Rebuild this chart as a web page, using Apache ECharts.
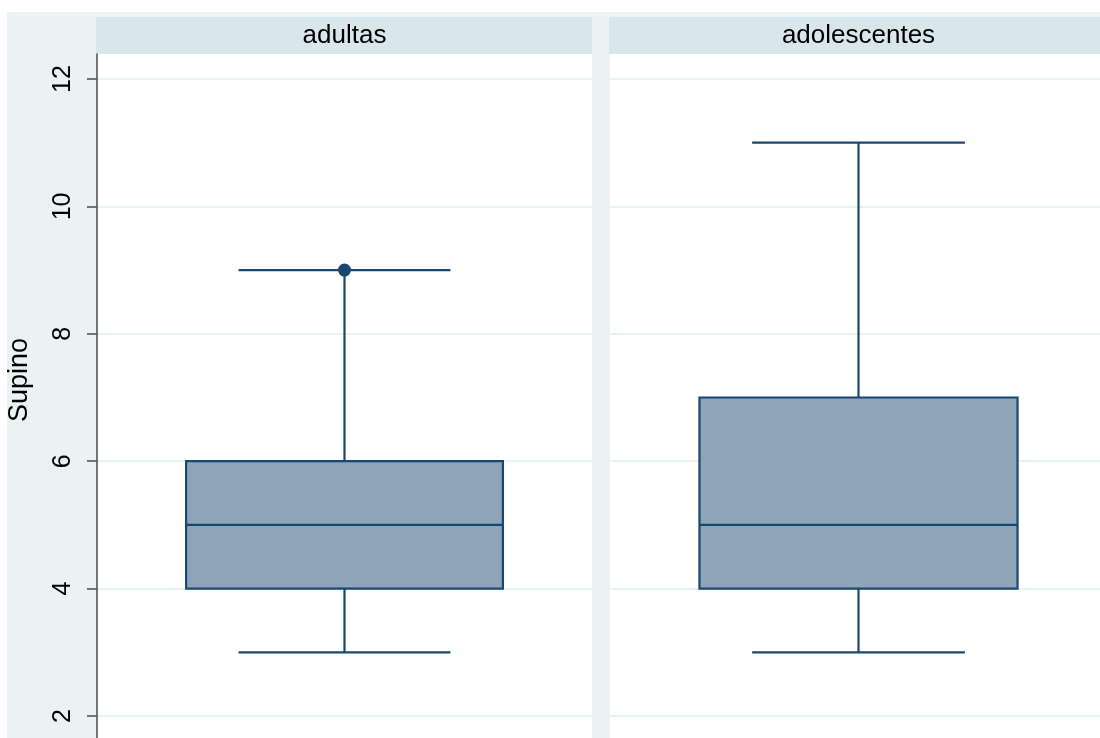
<!DOCTYPE html>
<html>
<head>
<meta charset="utf-8">
<script src="https://cdn.jsdelivr.net/npm/echarts@6/dist/echarts.min.js"></script>
<style>
  html, body { margin: 0; padding: 0; background: #ffffff; }
  #chart { width: 1100px; height: 738px; }
</style>
</head>
<body>
<div id="chart"></div>
<script>
// Supino by group: box summaries per panel
const panels = ['adultas', 'adolescentes'];
const whiskerLow = [3, 3];
const q1 = [4, 4];
const median = [5, 5];
const q3 = [6, 7];
const whiskerHigh = [9, 11];
const outsideValues = [[9], []];
const yTicks = [2, 4, 6, 8, 10, 12];
const yTitle = 'Supino';

const BOX_LINE = '#1a476f';
const BOX_FILL = '#8ea5b9';
const GRID_LINE = '#eaf2f3';
const OUTER_BG = '#eaf2f3';
const STRIP_BG = '#d9e6eb';
const FONT = 'Liberation Sans, Arial, sans-serif';

const chart = echarts.init(document.getElementById('chart'), null, { renderer: 'canvas' });

// panel geometry (pixels); the right panel runs slightly past the canvas edge,
// so its x range is cropped to the visible part of the panel
const panelTop = 54;
const panelLefts = [97, 610];
const panelWidths = [495, 497];
const visibleWidths = [495, 490];
const yMin = 1.655, yMax = 12.392;

function renderBox(params, api) {
  const xi = api.value(0);
  const lo = api.value(1), b1 = api.value(2), md = api.value(3), b3 = api.value(4), hi = api.value(5);
  const band = api.size([1, 0])[0];
  const boxW = band * 0.64;
  const capW = band * 0.428;
  const pLo = api.coord([xi, lo]);
  const p1 = api.coord([xi, b1]);
  const pMd = api.coord([xi, md]);
  const p3 = api.coord([xi, b3]);
  const pHi = api.coord([xi, hi]);
  const cx = pMd[0];
  const lineStyle = { stroke: BOX_LINE, lineWidth: 2.2, fill: null };
  return {
    type: 'group',
    children: [
      { type: 'line', shape: { x1: cx, y1: pLo[1], x2: cx, y2: p1[1] }, style: lineStyle },
      { type: 'line', shape: { x1: cx, y1: p3[1], x2: cx, y2: pHi[1] }, style: lineStyle },
      { type: 'line', shape: { x1: cx - capW / 2, y1: pLo[1], x2: cx + capW / 2, y2: pLo[1] }, style: lineStyle },
      { type: 'line', shape: { x1: cx - capW / 2, y1: pHi[1], x2: cx + capW / 2, y2: pHi[1] }, style: lineStyle },
      { type: 'rect', shape: { x: cx - boxW / 2, y: p3[1], width: boxW, height: p1[1] - p3[1] },
        style: { fill: BOX_FILL, stroke: BOX_LINE, lineWidth: 2.2 } },
      { type: 'line', shape: { x1: cx - boxW / 2, y1: pMd[1], x2: cx + boxW / 2, y2: pMd[1] }, style: lineStyle }
    ]
  };
}

const grids = [], xAxes = [], yAxes = [], series = [], graphics = [];

// outer background
graphics.push({ type: 'rect', z: -10, shape: { x: 7, y: 12, width: 1093, height: 726 }, style: { fill: OUTER_BG } });

panels.forEach((name, i) => {
  grids.push({ left: panelLefts[i], top: panelTop, width: visibleWidths[i], bottom: 0,
    show: true, backgroundColor: '#ffffff', borderWidth: 0, containLabel: false });
  // each panel holds one group centred at x = 0 over a unit-wide slot
  xAxes.push({ type: 'value', gridIndex: i, min: -0.5, max: -0.5 + visibleWidths[i] / panelWidths[i],
    show: false, splitLine: { show: false } });
  const left = i === 0;
  yAxes.push({
    type: 'value', gridIndex: i, min: yMin, max: yMax,
    name: left ? yTitle : '',
    nameLocation: 'middle', nameRotate: 90, nameGap: 64,
    nameTextStyle: { fontFamily: FONT, fontSize: 27, color: '#000', padding: [0, 0, 0, 32] },
    axisLine: { show: left, onZero: false, lineStyle: { color: '#555555', width: 1.6 } },
    axisTick: { show: left, length: 10, customValues: yTicks, lineStyle: { color: '#555555', width: 1.6 } },
    axisLabel: { show: left, rotate: 90, margin: 21, customValues: yTicks,
      fontFamily: FONT, fontSize: 25, color: '#000' },
    splitLine: { show: true, lineStyle: { color: GRID_LINE, width: 2 } }
  });
  series.push({
    type: 'custom', xAxisIndex: i, yAxisIndex: i,
    renderItem: renderBox,
    encode: { x: 0, y: [1, 2, 3, 4, 5] },
    data: [[0, whiskerLow[i], q1[i], median[i], q3[i], whiskerHigh[i]]],
    z: 3
  });
  if (outsideValues[i].length) {
    series.push({
      type: 'scatter', xAxisIndex: i, yAxisIndex: i,
      data: outsideValues[i].map(v => [0, v]),
      symbol: 'circle', symbolSize: 13,
      itemStyle: { color: BOX_LINE, opacity: 1 },
      z: 5
    });
  }
  // strip header with panel name
  graphics.push({
    type: 'group', z: 1,
    children: [
      { type: 'rect', shape: { x: panelLefts[i] - 1, y: 17, width: panelWidths[i] + 1, height: 37 }, style: { fill: STRIP_BG } },
      { type: 'text', x: panelLefts[i] + panelWidths[i] / 2, y: 36,
        style: { text: name, fontFamily: FONT, fontSize: 26, fill: '#000',
          align: 'center', verticalAlign: 'middle' } }
    ]
  });
});

chart.setOption({
  animation: false,
  backgroundColor: '#ffffff',
  graphic: graphics,
  grid: grids,
  xAxis: xAxes,
  yAxis: yAxes,
  series: series
});
</script>
</body>
</html>
